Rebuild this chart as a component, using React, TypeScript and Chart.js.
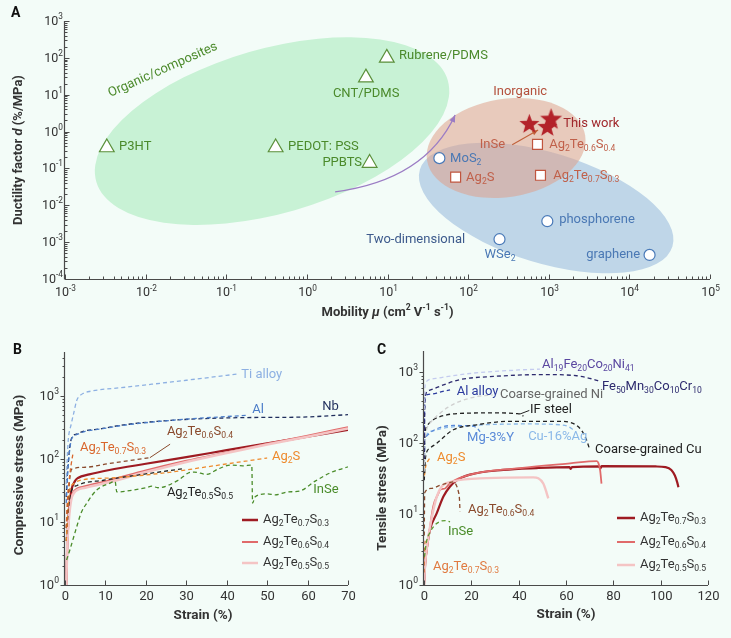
import React, { useEffect, useRef } from 'react';
import { Chart, registerables } from 'chart.js';
Chart.register(...registerables);

const FONT = 'Roboto, "Noto Sans", "DejaVu Sans", Arial, sans-serif';
const BG = '#f3fcf8';
const AXIS = '#4a4a4a';
const TXT = '#333333';

// ================= Panel A data =================
const organicNames = ['P3HT', 'PEDOT: PSS', 'PPBTS', 'CNT/PDMS', 'Rubrene/PDMS'];
const organicMobility = [0.0033, 0.41, 6.0, 5.4, 9.8];
const organicDuctility = [0.37, 0.37, 0.14, 29, 100];
const inorganicNames = ['Ag2Te0.6S0.4', 'Ag2S', 'Ag2Te0.7S0.3'];
const inorganicMobility = [725, 70, 790];
const inorganicDuctility = [0.45, 0.058, 0.065];
const twoDNames = ['MoS2', 'phosphorene', 'WSe2', 'graphene'];
const twoDMobility = [44, 960, 245, 17800];
const twoDDuctility = [0.19, 0.0037, 0.0012, 0.00045];
const thisWorkMobility = [575, 1070, 960];
const thisWorkDuctility = [1.65, 2.24, 1.37];
const thisWorkStarSize = [10.5, 11.5, 10.5];

const aXTicks = [1e-3, 1e-2, 1e-1, 1, 10, 100, 1e3, 1e4, 1e5];
const aXTickLabels = ['10^{-3}', '10^{-2}', '10^{-1}', '10^{0}', '10^{1}', '10^{2}', '10^{3}', '10^{4}', '10^{5}'];
const aYTicks = [1e-4, 1e-3, 1e-2, 1e-1, 1, 10, 100, 1e3];
const aYTickLabels = ['10^{-4}', '10^{-3}', '10^{-2}', '10^{-1}', '10^{0}', '10^{1}', '10^{2}', '10^{3}'];

// ================= Panel B data (compressive) =================
const bTiStrain = [0.3, 0.6, 0.8, 1.5, 2.2, 2.9, 3.6, 4.5, 6, 15, 30, 43];
const bTiStress = [40, 120, 200, 350, 550, 850, 1000, 1100, 1180, 1380, 1780, 2250];
const bAlStrain = [0.3, 0.6, 1, 1.4, 1.8, 3, 5, 8.6, 14, 27, 45];
const bAlStress = [20, 50, 110, 180, 220, 245, 275, 298, 340, 415, 495];
const bNbStrain = [0.3, 0.6, 1, 1.4, 1.8, 3, 5, 8.6, 14, 27, 45, 58, 70];
const bNbStress = [25, 60, 120, 190, 225, 250, 280, 300, 345, 415, 455, 462, 505];
const bT73Strain = [0.3, 0.58, 1, 1.5, 2.06];
const bT73Stress = [8, 22, 45, 80, 131];
const bT64Strain = [0.3, 0.8, 1.2, 1.65, 5, 11, 21];
const bT64Stress = [8, 25, 50, 69, 74, 85, 105];
const bT64LeaderStrain = [21, 26];
const bT64LeaderStress = [105, 172];
const bAg2SStrain = [0.3, 0.8, 1.2, 2, 3.7, 11, 23.5, 35, 50];
const bAg2SStress = [5, 18, 33, 40, 46, 50, 59, 75, 104];
const bT55Strain = [0.3, 0.8, 1.5, 3, 9.5, 20, 29];
const bT55Stress = [5, 15, 30, 38, 46, 58, 70];
const bInSeStrain = [0.4, 1.2, 2.9, 4, 5.4, 7.8, 11, 12.4, 12.8, 15.3, 20, 21.5, 23, 28, 30.5, 32, 35, 38, 41, 44, 46.2, 46.4, 47, 50, 52, 55, 58, 62, 66, 70];
const bInSeStress = [2.5, 3.6, 8.4, 14, 20, 32, 41, 44, 30, 31, 35, 37, 35, 46, 60, 62, 57, 70, 80, 78, 80, 20, 25, 28, 27, 30, 31, 45, 62, 75];
const bDarkStrain = [0.3, 0.6, 1, 1.5, 2.5, 3.2, 6, 11, 20, 30, 40, 50, 60, 70];
const bDarkStress = [1, 5, 15, 30, 45, 50, 57, 67, 84, 107, 138, 177, 226, 290];
const bMidStrain = [0.3, 0.6, 1, 1.5, 2.2, 5, 11, 20, 30, 40, 50, 60, 70];
const bMidStress = [1, 6, 14, 24, 31, 37, 46, 66, 94, 128, 175, 236, 320];
const bPaleStrain = [0.3, 0.6, 1, 1.5, 2.2, 5, 11, 20, 30, 40, 50, 60, 70];
const bPaleStress = [1, 5, 12, 22, 29, 35, 43, 62, 90, 125, 170, 225, 305];
const bXTicks = [0, 10, 20, 30, 40, 50, 60, 70];
const bYTicks = [1, 10, 100, 1000];
const bYTickLabels = ['10^{0}', '10^{1}', '10^{2}', '10^{3}'];

// ================= Panel C data (tensile) =================
const cAl19Strain = [0.1, 0.4, 1.1, 5, 9.6, 20, 29.3, 40, 49];
const cAl19Stress = [300, 600, 745, 820, 870, 970, 1025, 1080, 1110];
const cFe50Strain = [0.1, 0.3, 0.8, 2.5, 8.2, 15.2, 29.3, 50.4, 64.5, 71.5, 74.4];
const cFe50Stress = [60, 300, 500, 560, 665, 790, 875, 930, 895, 800, 745];
const cAlAlloyStrain = [0.05, 0.2, 0.4, 2, 5.4, 8, 11];
const cAlAlloyStress = [50, 200, 450, 490, 510, 540, 565];
const cNiStrain = [0.1, 0.5, 1.1, 3, 6.8, 10, 15.2, 22.3, 29];
const cNiStress = [40, 110, 155, 200, 265, 320, 390, 455, 480];
const cIFStrain = [0.1, 0.4, 1.5, 3.9, 9.6, 15.2, 29.3, 39, 41, 42];
const cIFStress = [60, 130, 180, 214, 251, 263, 268, 262, 255, 240];
const cIFLeaderStrain = [40.5, 44.5];
const cIFLeaderStress = [258, 290];
const cCuStrain = [0.1, 0.7, 2.5, 5.4, 12.4, 22.3, 36.3, 57.5, 62, 64.5, 67, 68.5, 70];
const cCuStress = [30, 65, 85, 100, 155, 182, 204, 204, 195, 178, 145, 115, 82];
const cMgStrain = [0.1, 0.4, 1.5, 5.4, 12.4, 20, 22.3, 23.7];
const cMgStress = [50, 100, 130, 160, 178, 175, 165, 145];
const cCuAgStrain = [0.1, 0.4, 1.1, 4, 8.2, 22.3, 43.4, 57.5, 61, 63];
const cCuAgStress = [40, 90, 130, 150, 163, 180, 187, 182, 172, 155];
const cAg2SStrain = [0.2, 0.6, 1.5, 3];
const cAg2SStress = [35, 45, 55, 65];
const cT64Strain = [0.1, 0.3, 3, 6.8, 10, 12.4, 13.8, 14.5, 15, 15.2];
const cT64Stress = [5, 20, 23, 25.5, 27.5, 28.5, 25, 21, 16, 11];
const cInSeStrain = [0.2, 1, 2.5, 4.6, 7.5, 9, 11];
const cInSeStress = [2.5, 4, 5.5, 7, 8, 8.1, 7.8];
const cT73DashStrain = [0.05, 0.2, 0.5];
const cT73DashStress = [1.5, 3, 4.2];
const cDarkStrain = [0, 0.5, 1.1, 2.5, 5.4, 8.2, 11, 13.8, 19.4, 33.5, 47.6, 61.5, 62, 62.5, 74, 74.5, 75, 98, 102, 104.5, 106, 107, 107.5];
const cDarkStress = [1, 2, 3.1, 6, 10.3, 17.7, 24.5, 30, 36, 42, 44.6, 46, 43.5, 46, 47, 44, 47.5, 47, 46, 42, 35, 28, 24];
const cMidStrain = [0, 0.5, 1.8, 3.9, 6.1, 6.8, 8.9, 11, 19.4, 40.6, 61.7, 73, 73.7, 74.4, 75];
const cMidStress = [1, 2, 4.3, 12.8, 19.6, 22, 23, 27.4, 36, 44.6, 52, 56, 52.5, 42, 27];
const cPaleStrain = [0, 0.5, 1.5, 3, 5.4, 7.5, 12.4, 26.5, 46.2, 48.3, 50.4, 51.8, 52.5];
const cPaleStress = [1, 2, 4, 8, 17.7, 24.5, 29, 32.2, 33, 32, 27, 20, 16.7];
const cXTicks = [0, 20, 40, 60, 80, 100, 120];
const cYTicks = [1, 10, 100, 1000];
const cYTickLabels = ['10^{0}', '10^{1}', '10^{2}', '10^{3}'];

// ================= colours =================
const C_DARK = '#9e1b22';
const C_MID = '#e06a6a';
const C_PALE = '#f4c4c4';
const C_BROWN = '#8a4a2c';
const C_ORANGE = '#ee8a2c';
const C_ORANGE2 = '#d9662c';
const C_GREEN = '#4a8c2a';

// ================= rich text =================
type Seg = { t: string; k: 'n' | 'sub' | 'sup'; it: boolean };
function parseRich(s: string): Seg[] {
  const segs: Seg[] = [];
  let i = 0, it = false, buf = '';
  const push = (t: string, k: Seg['k']) => { if (t) segs.push({ t, k, it }); };
  while (i < s.length) {
    const c = s[i];
    if (c === '_' || c === '^') {
      push(buf, 'n'); buf = '';
      let t = '';
      if (s[i + 1] === '{') { const j = s.indexOf('}', i + 2); t = s.slice(i + 2, j); i = j + 1; }
      else { t = s[i + 1]; i += 2; }
      push(t, c === '_' ? 'sub' : 'sup');
    } else if (c === '*') { push(buf, 'n'); buf = ''; it = !it; i++; }
    else { buf += c; i++; }
  }
  push(buf, 'n');
  return segs;
}
type RichOpt = { size: number; color: string; align?: 'left' | 'center' | 'right'; bold?: boolean; rot?: number };
function drawRich(ctx: CanvasRenderingContext2D, s: string, x: number, y: number, o: RichOpt) {
  const segs = parseRich(s);
  const fontFor = (seg: Seg) => `${seg.it ? 'italic ' : ''}${o.bold ? 'bold ' : ''}${seg.k === 'n' ? o.size : (o.size * 0.66).toFixed(1)}px ${FONT}`;
  ctx.save();
  ctx.translate(x, y);
  if (o.rot) ctx.rotate(o.rot);
  let w = 0; const ws: number[] = [];
  for (const seg of segs) { ctx.font = fontFor(seg); const m = ctx.measureText(seg.t).width; ws.push(m); w += m; }
  let cx = o.align === 'center' ? -w / 2 : o.align === 'right' ? -w : 0;
  ctx.fillStyle = o.color; ctx.textBaseline = 'middle'; ctx.textAlign = 'left';
  segs.forEach((seg, i) => {
    ctx.font = fontFor(seg);
    const dy = seg.k === 'sub' ? o.size * 0.33 : seg.k === 'sup' ? -o.size * 0.36 : 0;
    ctx.fillText(seg.t, cx, dy);
    cx += ws[i];
  });
  ctx.restore();
}

function line(ctx: CanvasRenderingContext2D, x1: number, y1: number, x2: number, y2: number) {
  ctx.beginPath(); ctx.moveTo(x1, y1); ctx.lineTo(x2, y2); ctx.stroke();
}

type AxisSpec = {
  ticks: number[]; labels: string[]; log: boolean; min: number; max: number;
  dir: 'in' | 'out'; labelOffset: number; size: number;
};
function minorValues(min: number, max: number) {
  const out: number[] = [];
  for (let d = Math.floor(Math.log10(min)); d <= Math.ceil(Math.log10(max)); d++) {
    for (let m = 2; m <= 9; m++) { const v = m * Math.pow(10, d); if (v > min && v < max) out.push(v); }
  }
  return out;
}
function drawAxes(chart: any, xs: AxisSpec, ys: AxisSpec) {
  const ctx: CanvasRenderingContext2D = chart.ctx;
  const a = chart.chartArea; const sx = chart.scales.x; const sy = chart.scales.y;
  ctx.save();
  ctx.strokeStyle = AXIS; ctx.lineWidth = 1.2;
  line(ctx, a.left, a.bottom + 0.5, a.right, a.bottom + 0.5);
  line(ctx, a.left - 0.5, a.top, a.left - 0.5, a.bottom + 0.5);
  ctx.lineWidth = 1;
  const xsign = xs.dir === 'in' ? -1 : 1;
  xs.ticks.forEach((v, i) => {
    const px = Math.round(sx.getPixelForValue(v)) + 0.5;
    line(ctx, px, a.bottom, px, a.bottom + xsign * 4.5);
    drawRich(ctx, xs.labels[i], px, a.bottom + xs.labelOffset, { size: xs.size, color: TXT, align: 'center' });
  });
  if (xs.log) minorValues(xs.min, xs.max).forEach(v => {
    const px = Math.round(sx.getPixelForValue(v)) + 0.5;
    line(ctx, px, a.bottom, px, a.bottom + xsign * 2.5);
  });
  const ysign = ys.dir === 'in' ? 1 : -1;
  ys.ticks.forEach((v, i) => {
    const py = Math.round(sy.getPixelForValue(v)) + 0.5;
    line(ctx, a.left, py, a.left + ysign * 4.5, py);
    drawRich(ctx, ys.labels[i], a.left - ys.labelOffset, py, { size: ys.size, color: TXT, align: 'right' });
  });
  if (ys.log) minorValues(ys.min, ys.max).forEach(v => {
    const py = Math.round(sy.getPixelForValue(v)) + 0.5;
    line(ctx, a.left, py, a.left + ysign * 2.5, py);
  });
  ctx.restore();
}

type Label = { t: string; x: number; y: number; c: string; align?: 'left' | 'center' | 'right'; rot?: number; size?: number };
function drawLabels(chart: any, labels: Label[]) {
  const sx = chart.scales.x, sy = chart.scales.y;
  labels.forEach(l => drawRich(chart.ctx, l.t, sx.getPixelForValue(l.x), sy.getPixelForValue(l.y),
    { size: l.size || 13, color: l.c, align: l.align || 'left', rot: l.rot ? (l.rot * Math.PI) / 180 : 0 }));
}

const pts = (xs: number[], ys: number[]) => xs.map((x, i) => ({ x, y: ys[i] }));
function dashed(label: string, xs: number[], ys: number[], color: string, extra: any = {}) {
  return { label, data: pts(xs, ys), borderColor: color, backgroundColor: color, borderWidth: 1.3, borderDash: [4, 3],
    pointRadius: 0, cubicInterpolationMode: 'monotone', fill: false, ...extra };
}
function solid(label: string, xs: number[], ys: number[], color: string, width: number) {
  return { label, data: pts(xs, ys), borderColor: color, backgroundColor: color, borderWidth: width,
    pointRadius: 0, cubicInterpolationMode: 'monotone', fill: false };
}

function starCanvas(r: number, color: string) {
  const c = document.createElement('canvas');
  const s = Math.ceil(2 * r + 2); c.width = s; c.height = s;
  const g = c.getContext('2d')!;
  g.translate(s / 2, s / 2 + r * 0.08);
  g.beginPath();
  for (let i = 0; i < 10; i++) {
    const rr = i % 2 === 0 ? r : r * 0.42;
    const ang = -Math.PI / 2 + (i * Math.PI) / 5;
    const px = rr * Math.cos(ang), py = rr * Math.sin(ang);
    if (i === 0) g.moveTo(px, py); else g.lineTo(px, py);
  }
  g.closePath(); g.fillStyle = color; g.fill();
  return c;
}

function arrowHead(ctx: CanvasRenderingContext2D, x: number, y: number, ang: number, len: number, half: number, color: string) {
  ctx.save(); ctx.fillStyle = color; ctx.translate(x, y); ctx.rotate(ang);
  ctx.beginPath(); ctx.moveTo(0, 0); ctx.lineTo(-len, -half); ctx.lineTo(-len, half); ctx.closePath(); ctx.fill();
  ctx.restore();
}

// ================= Panel A =================
const G_TXT = '#4b8a2b';
const R_TXT = '#c0604a';
const B_TXT = '#4a78b4';
const aLabels: Label[] = [
  { t: 'Organic/composites', x: 0.0164, y: 46.8, c: G_TXT, align: 'center', rot: -24 },
  { t: 'P3HT', x: 0.00468, y: 0.381, c: G_TXT },
  { t: 'PEDOT: PSS', x: 0.585, y: 0.381, c: G_TXT },
  { t: 'PPBTS', x: 4.84, y: 0.14, c: G_TXT, align: 'right' },
  { t: 'CNT/PDMS', x: 5.43, y: 10.4, c: G_TXT, align: 'center' },
  { t: 'Rubrene/PDMS', x: 13.9, y: 112, c: G_TXT },
  { t: 'Inorganic', x: 442, y: 11.8, c: '#b4503c', align: 'center' },
  { t: 'This work', x: 1510, y: 1.6, c: '#a0282c' },
  { t: 'InSe', x: 288, y: 0.431, c: R_TXT, align: 'right' },
  { t: 'Ag_2Te_{0.6}S_{0.4}', x: 1012, y: 0.431, c: R_TXT },
  { t: 'MoS_2', x: 59.8, y: 0.18, c: B_TXT },
  { t: 'Ag_2S', x: 94.4, y: 0.055, c: R_TXT },
  { t: 'Ag_2Te_{0.7}S_{0.3}', x: 1135, y: 0.0622, c: R_TXT },
  { t: 'phosphorene', x: 1345, y: 0.00399, c: B_TXT },
  { t: 'Two-dimensional', x: 91.8, y: 0.00114, c: '#3d5a8c', align: 'right' },
  { t: 'WSe_2', x: 249, y: 0.000448, c: B_TXT, align: 'center' },
  { t: 'graphene', x: 13600, y: 0.000448, c: B_TXT, align: 'right' },
];
const aEllipses = [
  { c: [0.37, 1.03], e: [56, 24.2], ratio: 0.45, fill: '#c8f2d5' },
  { c: [929, 0.00843], e: [34200, 0.000757], ratio: 0.417, fill: '#bfd6e8' },
  { c: [296, 0.358], e: [2830, 0.782], ratio: 0.6125, fill: 'rgba(222,160,138,0.55)' },
];

function makeA(): any {
  const stars = thisWorkStarSize.map(r => starCanvas(r, '#b3222a'));
  return {
    type: 'scatter',
    data: {
      datasets: [
        { label: 'Organic/composites', data: pts(organicMobility, organicDuctility), pointStyle: 'triangle', pointRadius: 8.5,
          borderColor: '#5b8f3a', backgroundColor: '#ffffff', borderWidth: 1.2 },
        { label: 'Two-dimensional', data: pts(twoDMobility, twoDDuctility), pointStyle: 'circle', pointRadius: 5.5,
          borderColor: '#4a7ab8', backgroundColor: '#ffffff', borderWidth: 1.2 },
        { label: 'Inorganic', data: pts(inorganicMobility, inorganicDuctility), pointStyle: 'rect', pointRadius: 7,
          borderColor: '#c0553e', backgroundColor: '#ffffff', borderWidth: 1.2 },
        { label: 'This work', data: pts(thisWorkMobility, thisWorkDuctility), pointStyle: stars, pointRadius: 11 },
      ],
    },
    options: {
      responsive: false, animation: false, events: [],
      layout: { padding: { left: 65, right: 21, top: 21, bottom: 51 } },
      plugins: { legend: { display: false }, tooltip: { enabled: false } },
      scales: {
        x: { type: 'logarithmic', min: 1e-3, max: 1e5, display: false },
        y: { type: 'logarithmic', min: 1e-4, max: 1e3, display: false },
      },
    },
    plugins: [{
      id: 'decorA',
      beforeDatasetsDraw(chart: any) {
        const ctx: CanvasRenderingContext2D = chart.ctx; const sx = chart.scales.x, sy = chart.scales.y;
        ctx.save();
        aEllipses.forEach(el => {
          const cx = sx.getPixelForValue(el.c[0]), cy = sy.getPixelForValue(el.c[1]);
          const ex = sx.getPixelForValue(el.e[0]), ey = sy.getPixelForValue(el.e[1]);
          const a = Math.hypot(ex - cx, ey - cy), rot = Math.atan2(ey - cy, ex - cx);
          ctx.beginPath(); ctx.ellipse(cx, cy, a, a * el.ratio, rot, 0, Math.PI * 2);
          ctx.fillStyle = el.fill; ctx.fill();
        });
        // purple trend arrow
        const p0 = [sx.getPixelForValue(2.24), sy.getPixelForValue(0.023)];
        const pc = [sx.getPixelForValue(29.5), sy.getPixelForValue(0.049)];
        const p1 = [sx.getPixelForValue(69), sy.getPixelForValue(2.8)];
        ctx.strokeStyle = '#9b7cc4'; ctx.lineWidth = 1.3;
        ctx.beginPath(); ctx.moveTo(p0[0], p0[1]); ctx.quadraticCurveTo(pc[0], pc[1], p1[0], p1[1]); ctx.stroke();
        arrowHead(ctx, p1[0], p1[1], Math.atan2(p1[1] - pc[1], p1[0] - pc[0]), 7, 3, '#9b7cc4');
        // InSe arrow
        const q0 = [sx.getPixelForValue(352), sy.getPixelForValue(0.44)];
        const q1 = [sx.getPixelForValue(738), sy.getPixelForValue(1.1)];
        ctx.strokeStyle = '#c0603a'; ctx.lineWidth = 1.1;
        line(ctx, q0[0], q0[1], q1[0], q1[1]);
        arrowHead(ctx, q1[0], q1[1], Math.atan2(q1[1] - q0[1], q1[0] - q0[0]), 6, 2.5, '#c0603a');
        ctx.restore();
      },
      afterDraw(chart: any) {
        const ctx: CanvasRenderingContext2D = chart.ctx; const a = chart.chartArea;
        drawLabels(chart, aLabels);
        drawAxes(chart,
          { ticks: aXTicks, labels: aXTickLabels, log: true, min: 1e-3, max: 1e5, dir: 'in', labelOffset: 14, size: 12.5 },
          { ticks: aYTicks, labels: aYTickLabels, log: true, min: 1e-4, max: 1e3, dir: 'in', labelOffset: 2, size: 12.5 });
        drawRich(ctx, 'Mobility *μ* (cm^2 V^{-1} s^{-1})', (a.left + a.right) / 2, a.bottom + 34, { size: 13, color: TXT, align: 'center', bold: true });
        drawRich(ctx, 'Ductility factor *d* (%/MPa)', 19, (a.top + a.bottom) / 2, { size: 13, color: TXT, align: 'center', bold: true, rot: -Math.PI / 2 });
        drawRich(ctx, 'A', 11, 13, { size: 14, color: '#111', bold: true });
      },
    }],
  };
}

// ================= Panel B =================
const bLabels: Label[] = [
  { t: 'Ti alloy', x: 43.6, y: 2150, c: '#8db0e2' },
  { t: 'Al', x: 46.3, y: 600, c: '#4a7cc8' },
  { t: 'Nb', x: 63.6, y: 669, c: '#1f2d5c' },
  { t: 'Ag_2Te_{0.6}S_{0.4}', x: 25.2, y: 268, c: C_BROWN },
  { t: 'Ag_2Te_{0.7}S_{0.3}', x: 3.7, y: 150, c: C_ORANGE2 },
  { t: 'Ag_2S', x: 51.2, y: 108, c: C_ORANGE },
  { t: 'Ag_2Te_{0.5}S_{0.5}', x: 25.2, y: 28.9, c: '#222222' },
  { t: 'InSe', x: 61.4, y: 32.2, c: C_GREEN },
];
const legendNames = ['Ag_2Te_{0.7}S_{0.3}', 'Ag_2Te_{0.6}S_{0.4}', 'Ag_2Te_{0.5}S_{0.5}'];
const legendColors = [C_DARK, C_MID, C_PALE];
const legendWidths = [2.5, 2, 2.5];

function drawLegend(chart: any, x0: number, x1: number, tx: number, ys: number[]) {
  const ctx: CanvasRenderingContext2D = chart.ctx; const a = chart.chartArea;
  ctx.save();
  legendNames.forEach((n, i) => {
    const y = a.bottom + ys[i];
    ctx.strokeStyle = legendColors[i]; ctx.lineWidth = legendWidths[i];
    line(ctx, a.right + x0, y, a.right + x1, y);
    drawRich(ctx, n, a.right + tx, y, { size: 13, color: TXT });
  });
  ctx.restore();
}

function makeB(): any {
  return {
    type: 'line',
    data: {
      datasets: [
        dashed('Ti alloy', bTiStrain, bTiStress, '#8db0e2'),
        dashed('Al', bAlStrain, bAlStress, '#4a7cc8'),
        dashed('Nb', bNbStrain, bNbStress, '#1f2d5c'),
        dashed('Ag2Te0.7S0.3', bT73Strain, bT73Stress, C_ORANGE2),
        dashed('Ag2Te0.6S0.4', bT64Strain, bT64Stress, C_BROWN),
        solid('leader', bT64LeaderStrain, bT64LeaderStress, C_BROWN, 1),
        dashed('Ag2S', bAg2SStrain, bAg2SStress, C_ORANGE),
        dashed('Ag2Te0.5S0.5', bT55Strain, bT55Stress, '#222222'),
        dashed('InSe', bInSeStrain, bInSeStress, C_GREEN),
        solid('Ag2Te0.5S0.5', bPaleStrain, bPaleStress, C_PALE, 2.6),
        solid('Ag2Te0.6S0.4', bMidStrain, bMidStress, C_MID, 1.8),
        solid('Ag2Te0.7S0.3', bDarkStrain, bDarkStress, C_DARK, 2.2),
      ],
    },
    options: {
      responsive: false, animation: false, events: [],
      layout: { padding: { left: 65, right: 17, top: 22, bottom: 53 } },
      plugins: { legend: { display: false }, tooltip: { enabled: false } },
      scales: {
        x: { type: 'linear', min: 0, max: 70, display: false },
        y: { type: 'logarithmic', min: 1, max: 5000, display: false },
      },
    },
    plugins: [{
      id: 'decorB',
      afterDraw(chart: any) {
        const ctx: CanvasRenderingContext2D = chart.ctx;
        drawLabels(chart, bLabels);
        drawLegend(chart, -106, -90, -85, [-65, -43, -22]);
        drawAxes(chart,
          { ticks: bXTicks, labels: bXTicks.map(String), log: false, min: 0, max: 70, dir: 'in', labelOffset: 12, size: 13 },
          { ticks: bYTicks, labels: bYTickLabels, log: true, min: 1, max: 5000, dir: 'out', labelOffset: 6, size: 13 });
        drawRich(ctx, 'Strain (%)', 203, 286, { size: 13.5, color: TXT, align: 'center', bold: true });
        drawRich(ctx, 'Compressive stress (MPa)', 20, 145, { size: 13.5, color: TXT, align: 'center', bold: true, rot: -Math.PI / 2 });
        drawRich(ctx, 'B', 13, 20, { size: 14, color: '#111', bold: true });
      },
    }],
  };
}

// ================= Panel C =================
const cLabels: Label[] = [
  { t: 'Al_{19}Fe_{20}Co_{20}Ni_{41}', x: 49.9, y: 1280, c: '#5a47a0' },
  { t: 'Fe_{50}Mn_{30}Co_{10}Cr_{10}', x: 75.2, y: 626, c: '#2d2a6e' },
  { t: 'Al alloy', x: 13.8, y: 532, c: '#2b3a9e' },
  { t: 'Coarse-grained Ni', x: 32.1, y: 483, c: '#666666' },
  { t: 'IF steel', x: 44.8, y: 296, c: '#222222' },
  { t: 'Mg-3%Y', x: 18.2, y: 119, c: '#5a8ad8' },
  { t: 'Cu-16%Ag', x: 44.0, y: 123, c: '#8ab8e8' },
  { t: 'Coarse-grained Cu', x: 72.3, y: 80.7, c: '#222222' },
  { t: 'Ag_2S', x: 5.5, y: 62, c: C_ORANGE },
  { t: 'Ag_2Te_{0.6}S_{0.4}', x: 18.6, y: 11.5, c: C_BROWN },
  { t: 'InSe', x: 10.1, y: 5.6, c: C_GREEN },
  { t: 'Ag_2Te_{0.7}S_{0.3}', x: 3.8, y: 1.8, c: '#e07a40' },
];

function makeC(): any {
  return {
    type: 'line',
    data: {
      datasets: [
        dashed('Al19Fe20Co20Ni41', cAl19Strain, cAl19Stress, '#c4cbef'),
        dashed('Fe50Mn30Co10Cr10', cFe50Strain, cFe50Stress, '#2d2a6e'),
        dashed('Coarse-grained Ni', cNiStrain, cNiStress, '#cfcfcf'),
        dashed('Al alloy', cAlAlloyStrain, cAlAlloyStress, '#2b3a9e'),
        dashed('IF steel', cIFStrain, cIFStress, '#222222'),
        solid('leader', cIFLeaderStrain, cIFLeaderStress, '#222222', 1),
        dashed('Coarse-grained Cu', cCuStrain, cCuStress, '#222222'),
        dashed('Mg-3%Y', cMgStrain, cMgStress, '#5a8ad8'),
        dashed('Cu-16%Ag', cCuAgStrain, cCuAgStress, '#8ab8e8'),
        dashed('Ag2S', cAg2SStrain, cAg2SStress, C_ORANGE),
        dashed('Ag2Te0.6S0.4', cT64Strain, cT64Stress, C_BROWN),
        dashed('InSe', cInSeStrain, cInSeStress, '#5a9a30'),
        dashed('Ag2Te0.7S0.3', cT73DashStrain, cT73DashStress, '#e07a40'),
        solid('Ag2Te0.5S0.5', cPaleStrain, cPaleStress, C_PALE, 2.4),
        solid('Ag2Te0.6S0.4', cMidStrain, cMidStress, C_MID, 1.8),
        solid('Ag2Te0.7S0.3', cDarkStrain, cDarkStress, C_DARK, 2.2),
      ],
    },
    options: {
      responsive: false, animation: false, events: [],
      layout: { padding: { left: 59, right: 23, top: 21, bottom: 53 } },
      plugins: { legend: { display: false }, tooltip: { enabled: false } },
      scales: {
        x: { type: 'linear', min: 0, max: 120, display: false },
        y: { type: 'logarithmic', min: 1, max: 2000, display: false },
      },
    },
    plugins: [{
      id: 'decorC',
      afterDraw(chart: any) {
        const ctx: CanvasRenderingContext2D = chart.ctx;
        drawLabels(chart, cLabels);
        drawLegend(chart, -91, -73, -68, [-67, -43, -20]);
        drawAxes(chart,
          { ticks: cXTicks, labels: cXTicks.map(String), log: false, min: 0, max: 120, dir: 'in', labelOffset: 12, size: 13 },
          { ticks: cYTicks, labels: cYTickLabels, log: true, min: 1, max: 2000, dir: 'out', labelOffset: 6, size: 13 });
        drawRich(ctx, 'Strain (%)', 201, 285, { size: 13.5, color: TXT, align: 'center', bold: true });
        drawRich(ctx, 'Tensile stress (MPa)', 18, 158, { size: 13.5, color: TXT, align: 'center', bold: true, rot: -Math.PI / 2 });
        drawRich(ctx, 'C', 12, 20, { size: 14, color: '#111', bold: true });
      },
    }],
  };
}

export default function App() {
  const aRef = useRef<HTMLCanvasElement>(null);
  const bRef = useRef<HTMLCanvasElement>(null);
  const cRef = useRef<HTMLCanvasElement>(null);
  useEffect(() => {
    const charts = [
      new Chart(aRef.current!, makeA()),
      new Chart(bRef.current!, makeB()),
      new Chart(cRef.current!, makeC()),
    ];
    return () => charts.forEach(c => c.destroy());
  }, []);
  return (
    <div style={{ position: 'fixed', left: 0, top: 0, width: 731, height: 638, background: BG, overflow: 'hidden' }}>
      <canvas ref={aRef} width={731} height={330} style={{ position: 'absolute', left: 0, top: 0 }} />
      <canvas ref={bRef} width={365} height={308} style={{ position: 'absolute', left: 0, top: 330 }} />
      <canvas ref={cRef} width={366} height={308} style={{ position: 'absolute', left: 365, top: 330 }} />
    </div>
  );
}
